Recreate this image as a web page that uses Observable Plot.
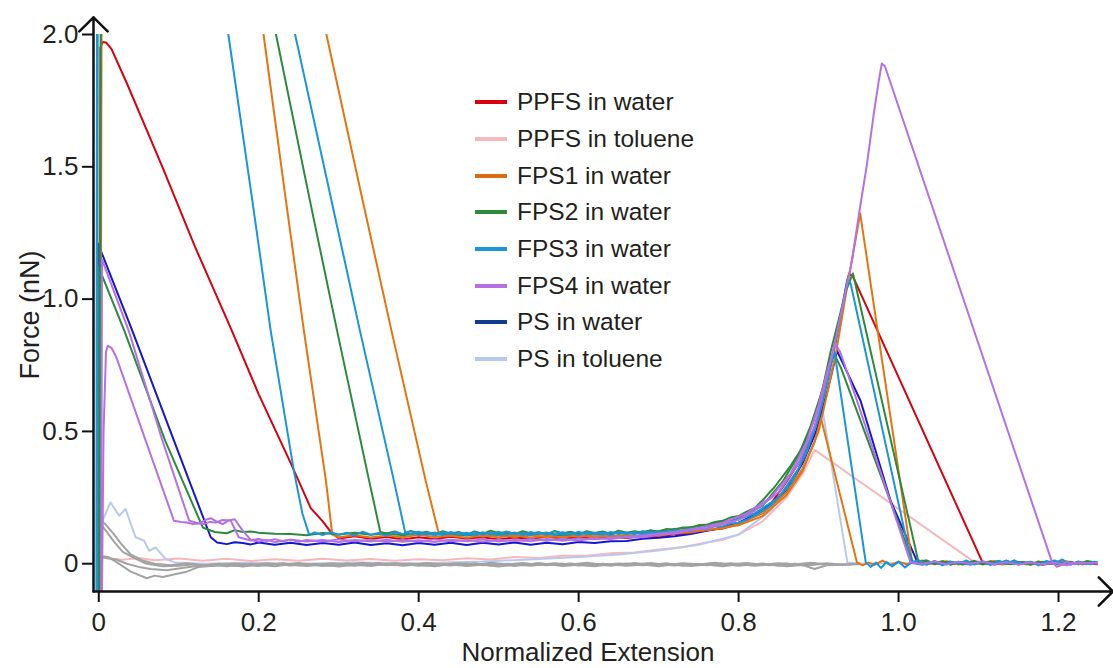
<!DOCTYPE html>
<html>
<head>
<meta charset="utf-8">
<script src="https://cdn.jsdelivr.net/npm/d3@7"></script>
<script src="https://cdn.jsdelivr.net/npm/@observablehq/plot@0.6"></script>
<style>
  body { margin: 0; background: #fff; font-family: "Liberation Sans", Arial, sans-serif; }
  #wrap { position: relative; width: 1113px; height: 668px; }
  #legend { position: absolute; left: 475px; top: 84px; }
  .item { display: flex; align-items: center; height: 36.7px; font-size: 24.5px; color: #231f20; white-space: nowrap; }
  .sw { width: 32px; height: 4px; margin-right: 10px; }
</style>
</head>
<body>
<div id="wrap"><div id="legend"></div></div>
<script>
// ---------- labels ----------
const xLabel = "Normalized Extension";
const yLabel = "Force (nN)";
const xTicks = [0, 0.2, 0.4, 0.6, 0.8, 1.0, 1.2];
const xTickLabels = ["0", "0.2", "0.4", "0.6", "0.8", "1.0", "1.2"];
const yTicks = [0, 0.5, 1.0, 1.5, 2.0];
const yTickLabels = ["0", "0.5", "1.0", "1.5", "2.0"];
const xDomain = [-0.0066, 1.25];
const yDomain = [-0.105, 2.0];
const xArrowEnd = 1.268;
const yArrowEnd = 2.065;

// ---------- series ----------
const seriesNames = ["PPFS in water", "PPFS in toluene", "FPS1 in water", "FPS2 in water",
                     "FPS3 in water", "FPS4 in water", "PS in water", "PS in toluene"];
const lineColors   = ["#d8000e", "#f7b8bb", "#e4740f", "#2d8a3c", "#1a95da", "#b471e2", "#1616cc", "#b9c9ee"];
const legendColors = ["#d8000e", "#f7b8bb", "#dc6c10", "#2e8a3a", "#1a95da", "#b471e2", "#0f3c8c", "#b9c9ee"];
const greyColor = "#a3a3a3";

// ---------- curves: [extension, force] ----------
const ppfsWater = [[0.001,-0.10],[0.002,1.95],[0.005,1.972],[0.009,1.97],[0.016,1.945],[0.0355,1.813],[0.08,1.496],[0.12,1.2],[0.165,0.89],[0.2,0.64],[0.24,0.38],[0.265,0.21],[0.28,0.16],[0.29,0.12],[0.3,0.095],[0.32,0.104],[0.34,0.094],[0.36,0.101],[0.38,0.092],[0.4,0.1],[0.42,0.093],[0.44,0.102],[0.46,0.095],[0.48,0.1],[0.5,0.092],[0.52,0.099],[0.54,0.094],[0.56,0.102],[0.58,0.095],[0.6,0.1],[0.62,0.094],[0.64,0.102],[0.66,0.097],[0.68,0.104],[0.7,0.102],[0.72,0.112],[0.74,0.114],[0.76,0.126],[0.78,0.133],[0.8,0.15],[0.82,0.18],[0.84,0.225],[0.86,0.31],[0.875,0.38],[0.89,0.47],[0.9,0.56],[0.91,0.68],[0.92,0.82],[0.928,0.94],[0.934,1.04],[0.938,1.096],[0.943,1.085],[1.105,0.005],[1.12,-0.003],[1.135,0.006],[1.15,-0.002],[1.165,0.005],[1.18,-0.004],[1.195,0.004],[1.21,-0.003],[1.225,0.003],[1.25,-0.002]];

const ppfsToluene = [[0.0,0.03],[0.01,0.02],[0.03,0.015],[0.05,0.022],[0.07,0.013],[0.1,0.02],[0.13,0.011],[0.16,0.019],[0.19,0.01],[0.22,0.017],[0.25,0.011],[0.28,0.019],[0.31,0.012],[0.34,0.018],[0.37,0.011],[0.4,0.017],[0.43,0.013],[0.46,0.021],[0.49,0.016],[0.52,0.025],[0.55,0.022],[0.58,0.03],[0.61,0.03],[0.64,0.04],[0.67,0.042],[0.7,0.054],[0.73,0.062],[0.76,0.08],[0.78,0.09],[0.8,0.11],[0.83,0.16],[0.86,0.25],[0.88,0.34],[0.895,0.43],[1.093,0.01],[1.12,0.004],[1.16,0.006],[1.2,0.002],[1.25,0.004]];

const fps1WaterA = [[0.002,-0.1],[0.003,2.6],[0.197,2.2],[0.206,2.0],[0.234,1.372],[0.2565,0.88],[0.284,0.314],[0.292,0.11],[0.3,0.1],[0.32,0.108],[0.34,0.099],[0.36,0.107],[0.38,0.1],[0.4,0.109],[0.42,0.101],[0.44,0.106],[0.46,0.098],[0.48,0.107],[0.5,0.1],[0.52,0.108],[0.54,0.099],[0.56,0.106],[0.58,0.1],[0.6,0.108],[0.62,0.101],[0.64,0.107],[0.66,0.1],[0.68,0.109],[0.7,0.106],[0.72,0.116],[0.74,0.118],[0.76,0.128],[0.78,0.134],[0.8,0.15],[0.83,0.19],[0.86,0.27],[0.88,0.36],[0.895,0.46],[0.903,0.55],[0.948,0.005],[0.955,-0.006],[0.962,0.004],[0.97,-0.004],[0.98,0.012],[0.99,-0.005],[1.0,0.008],[1.01,-0.002],[1.025,0.01],[1.04,0.0],[1.055,0.009],[1.07,-0.002],[1.085,0.008],[1.1,0.0],[1.115,0.009],[1.13,-0.002],[1.145,0.007],[1.16,-0.003],[1.175,0.006],[1.19,0.0],[1.205,0.008],[1.22,-0.002],[1.235,0.006],[1.25,0.002]];

const fps1WaterB = [[0.002,-0.1],[0.004,2.8],[0.270,2.2],[0.2846,2.0],[0.33,1.372],[0.366,0.88],[0.4087,0.314],[0.425,0.115],[0.44,0.105],[0.46,0.112],[0.48,0.103],[0.5,0.11],[0.52,0.101],[0.54,0.109],[0.56,0.1],[0.58,0.108],[0.6,0.102],[0.62,0.11],[0.64,0.103],[0.66,0.108],[0.68,0.104],[0.7,0.113],[0.72,0.114],[0.74,0.122],[0.76,0.126],[0.78,0.136],[0.8,0.145],[0.83,0.18],[0.86,0.26],[0.88,0.35],[0.9,0.5],[0.912,0.66],[0.922,0.8],[0.932,0.98],[0.94,1.12],[0.946,1.22],[0.952,1.324],[1.017,0.005],[1.03,0.012],[1.045,0.0],[1.06,0.009],[1.075,-0.003],[1.09,0.008],[1.105,0.0],[1.12,0.01],[1.135,-0.002],[1.15,0.007],[1.165,-0.003],[1.18,0.006],[1.195,0.0],[1.21,0.009],[1.225,-0.002],[1.24,0.006],[1.25,0.0]];

const fps2WaterA = [[0.001,-0.1],[0.003,2.9],[0.208,2.2],[0.2216,2.0],[0.264,1.372],[0.298,0.88],[0.338,0.314],[0.352,0.12],[0.36,0.114],[0.37,0.122],[0.38,0.112],[0.39,0.124],[0.4,0.115],[0.41,0.121],[0.42,0.111],[0.43,0.123],[0.44,0.114],[0.45,0.12],[0.46,0.11],[0.47,0.122],[0.48,0.113],[0.49,0.125],[0.5,0.115],[0.51,0.121],[0.52,0.112],[0.53,0.123],[0.54,0.114],[0.55,0.119],[0.56,0.111],[0.57,0.124],[0.58,0.115],[0.59,0.121],[0.6,0.112],[0.61,0.123],[0.62,0.116],[0.63,0.122],[0.64,0.113],[0.65,0.125],[0.66,0.117],[0.67,0.123],[0.68,0.116],[0.69,0.127],[0.7,0.121],[0.71,0.131],[0.72,0.127],[0.73,0.137],[0.74,0.136],[0.75,0.146],[0.76,0.147],[0.77,0.158],[0.78,0.162],[0.79,0.175],[0.8,0.18],[0.81,0.197],[0.82,0.21],[0.83,0.24],[0.845,0.29],[0.865,0.37],[0.88,0.44],[0.893,0.53],[0.905,0.66],[0.915,0.8],[0.925,0.92],[0.934,1.03],[0.943,1.097],[1.025,0.005],[1.035,0.013],[1.045,-0.002],[1.055,0.01],[1.065,-0.004],[1.075,0.008],[1.085,0.0],[1.095,0.011],[1.105,-0.003],[1.115,0.009],[1.125,0.0],[1.135,0.012],[1.145,-0.002],[1.155,0.007],[1.165,-0.004],[1.175,0.009],[1.185,0.0],[1.195,0.011],[1.205,-0.003],[1.215,0.008],[1.225,-0.002],[1.235,0.01],[1.25,0.003]];

const fps2WaterB = [[0.0,-0.1],[0.0,1.12],[0.032,0.88],[0.083,0.465],[0.13,0.137],[0.145,0.12],[0.16,0.115],[0.17,0.127],[0.18,0.12],[0.19,0.122],[0.2,0.117],[0.22,0.113],[0.24,0.112],[0.26,0.108],[0.28,0.116],[0.3,0.11],[0.32,0.117],[0.34,0.109],[0.36,0.115],[0.38,0.108],[0.4,0.116],[0.42,0.109],[0.44,0.114],[0.46,0.107],[0.48,0.116],[0.5,0.109],[0.52,0.117],[0.54,0.11],[0.56,0.115],[0.58,0.108],[0.6,0.116],[0.62,0.111],[0.64,0.117],[0.66,0.114],[0.68,0.122],[0.7,0.124],[0.72,0.131],[0.74,0.138],[0.76,0.146],[0.78,0.158],[0.8,0.17],[0.83,0.22],[0.855,0.31],[0.875,0.41],[0.89,0.52],[0.903,0.64],[0.914,0.76],[0.92,0.79],[0.928,0.74],[1.018,0.005],[1.035,0.009],[1.05,0.0],[1.065,0.008],[1.08,-0.003],[1.095,0.007],[1.11,0.0],[1.125,0.009],[1.14,-0.002],[1.155,0.006],[1.17,0.0],[1.185,0.008],[1.2,-0.003],[1.215,0.005],[1.23,-0.002],[1.25,0.003]];

const fps3WaterA = [[-0.003,-0.1],[-0.002,2.9],[0.152,2.2],[0.162,2.0],[0.192,1.372],[0.215,0.88],[0.244,0.35],[0.2546,0.19],[0.263,0.11],[0.27,0.118],[0.28,0.108],[0.29,0.12],[0.3,0.109],[0.31,0.117],[0.32,0.107],[0.33,0.121],[0.34,0.11],[0.35,0.116],[0.36,0.106],[0.37,0.119],[0.38,0.111],[0.39,0.122],[0.4,0.109],[0.41,0.117],[0.42,0.108],[0.43,0.12],[0.44,0.112],[0.45,0.118],[0.46,0.107],[0.47,0.12],[0.48,0.11],[0.49,0.117],[0.5,0.108],[0.51,0.121],[0.52,0.111],[0.53,0.116],[0.54,0.107],[0.55,0.119],[0.56,0.11],[0.57,0.122],[0.58,0.109],[0.59,0.116],[0.6,0.108],[0.61,0.12],[0.62,0.111],[0.63,0.118],[0.64,0.108],[0.65,0.12],[0.66,0.112],[0.67,0.119],[0.68,0.11],[0.69,0.121],[0.7,0.114],[0.71,0.123],[0.72,0.118],[0.73,0.127],[0.74,0.124],[0.75,0.134],[0.76,0.131],[0.77,0.142],[0.78,0.141],[0.79,0.152],[0.8,0.155],[0.81,0.166],[0.825,0.19],[0.84,0.22],[0.865,0.3],[0.885,0.42],[0.9,0.55],[0.912,0.7],[0.922,0.85],[0.93,0.98],[0.936,1.076],[0.94,1.06],[1.016,0.005],[1.025,0.014],[1.035,-0.004],[1.045,0.01],[1.055,-0.006],[1.065,0.008],[1.075,0.0],[1.085,0.012],[1.095,-0.003],[1.105,0.009],[1.115,-0.005],[1.125,0.011],[1.135,0.0],[1.145,0.013],[1.155,-0.002],[1.165,0.008],[1.175,-0.006],[1.185,0.01],[1.195,0.002],[1.205,0.016],[1.215,-0.004],[1.225,0.009],[1.235,-0.002],[1.245,0.008],[1.25,0.003]];

const fps3WaterB = [[-0.002,-0.1],[-0.001,2.95],[0.231,2.2],[0.2455,2.0],[0.291,1.372],[0.3266,0.88],[0.369,0.314],[0.383,0.12],[0.39,0.112],[0.4,0.121],[0.41,0.11],[0.42,0.118],[0.43,0.108],[0.44,0.12],[0.45,0.111],[0.46,0.117],[0.47,0.107],[0.48,0.119],[0.49,0.11],[0.5,0.121],[0.51,0.109],[0.52,0.117],[0.53,0.108],[0.54,0.12],[0.55,0.112],[0.56,0.118],[0.57,0.107],[0.58,0.119],[0.59,0.11],[0.6,0.121],[0.61,0.111],[0.62,0.117],[0.63,0.109],[0.64,0.12],[0.65,0.112],[0.66,0.118],[0.67,0.111],[0.68,0.122],[0.69,0.115],[0.7,0.121],[0.71,0.117],[0.72,0.127],[0.73,0.124],[0.74,0.132],[0.75,0.133],[0.76,0.141],[0.77,0.143],[0.78,0.153],[0.79,0.158],[0.8,0.168],[0.82,0.19],[0.85,0.25],[0.875,0.36],[0.893,0.49],[0.905,0.62],[0.914,0.74],[0.92,0.8],[0.959,0.005],[0.965,-0.012],[0.972,0.004],[0.978,-0.016],[0.985,0.006],[0.992,-0.01],[1.0,0.008],[1.008,-0.014],[1.016,0.004],[1.03,-0.004],[1.045,0.009],[1.06,-0.003],[1.075,0.007],[1.09,-0.004],[1.105,0.008],[1.12,0.0],[1.135,0.01],[1.15,-0.003],[1.165,0.006],[1.18,-0.002],[1.195,0.012],[1.21,-0.004],[1.225,0.007],[1.24,-0.002],[1.25,0.004]];

const fps4WaterA = [[0.003,-0.1],[0.004,1.15],[0.0375,0.88],[0.0796,0.465],[0.113,0.163],[0.122,0.155],[0.131,0.15],[0.139,0.158],[0.146,0.156],[0.155,0.165],[0.165,0.163],[0.175,0.1],[0.19,0.088],[0.2,0.094],[0.21,0.086],[0.22,0.093],[0.23,0.085],[0.24,0.091],[0.25,0.083],[0.26,0.09],[0.28,0.084],[0.3,0.092],[0.32,0.085],[0.34,0.091],[0.36,0.083],[0.38,0.09],[0.4,0.084],[0.42,0.092],[0.44,0.085],[0.46,0.09],[0.48,0.083],[0.5,0.091],[0.52,0.086],[0.54,0.093],[0.56,0.087],[0.58,0.094],[0.6,0.088],[0.62,0.096],[0.64,0.093],[0.66,0.101],[0.68,0.1],[0.7,0.109],[0.72,0.114],[0.74,0.126],[0.76,0.133],[0.78,0.149],[0.8,0.166],[0.82,0.2],[0.85,0.27],[0.875,0.38],[0.895,0.52],[0.91,0.7],[0.922,0.86],[0.932,1.0],[0.942,1.15],[0.952,1.35],[0.96,1.5],[0.969,1.7],[0.975,1.82],[0.979,1.89],[0.983,1.88],[1.192,0.005],[1.198,-0.012],[1.204,-0.004],[1.21,0.006],[1.225,0.0],[1.25,0.003]];

const fps4WaterB = [[0.004,-0.1],[0.006,0.5],[0.009,0.8],[0.0113,0.824],[0.016,0.815],[0.022,0.78],[0.094,0.162],[0.103,0.158],[0.11,0.156],[0.118,0.15],[0.125,0.152],[0.133,0.165],[0.14,0.172],[0.148,0.158],[0.155,0.15],[0.162,0.163],[0.17,0.168],[0.18,0.125],[0.19,0.09],[0.2,0.084],[0.21,0.09],[0.22,0.082],[0.24,0.091],[0.26,0.084],[0.28,0.09],[0.3,0.082],[0.32,0.09],[0.34,0.084],[0.36,0.091],[0.38,0.083],[0.4,0.089],[0.42,0.082],[0.44,0.091],[0.46,0.085],[0.48,0.092],[0.5,0.084],[0.52,0.09],[0.54,0.085],[0.56,0.093],[0.58,0.087],[0.6,0.095],[0.62,0.092],[0.64,0.098],[0.66,0.1],[0.69,0.11],[0.72,0.12],[0.75,0.135],[0.78,0.155],[0.81,0.19],[0.84,0.25],[0.865,0.34],[0.885,0.46],[0.9,0.6],[0.912,0.74],[0.921,0.83],[0.927,0.8],[0.948,0.616],[1.015,0.005],[1.03,0.0],[1.045,0.008],[1.06,-0.002],[1.075,0.007],[1.09,0.0],[1.105,0.008],[1.12,-0.002],[1.135,0.006],[1.15,-0.003],[1.165,0.005],[1.18,-0.002],[1.195,0.004],[1.21,-0.006],[1.225,0.004],[1.25,0.002]];

const psWater = [[0.0,-0.1],[-0.001,1.21],[0.001,1.195],[0.042,0.88],[0.094,0.465],[0.14,0.1],[0.148,0.08],[0.16,0.074],[0.17,0.081],[0.18,0.078],[0.19,0.073],[0.2,0.08],[0.22,0.072],[0.24,0.079],[0.26,0.071],[0.28,0.078],[0.3,0.072],[0.32,0.08],[0.34,0.071],[0.36,0.077],[0.38,0.07],[0.4,0.078],[0.42,0.072],[0.44,0.079],[0.46,0.071],[0.48,0.079],[0.5,0.073],[0.52,0.08],[0.54,0.072],[0.56,0.079],[0.58,0.074],[0.6,0.082],[0.62,0.078],[0.64,0.085],[0.66,0.086],[0.68,0.094],[0.7,0.098],[0.72,0.104],[0.74,0.112],[0.77,0.13],[0.8,0.155],[0.83,0.2],[0.86,0.28],[0.88,0.38],[0.897,0.5],[0.91,0.64],[0.918,0.74],[0.923,0.805],[0.93,0.76],[0.9525,0.616],[0.99,0.238],[1.023,0.01],[1.04,0.005],[1.07,0.0],[1.1,0.006],[1.13,-0.002],[1.16,0.004],[1.19,0.0],[1.25,0.003]];

const psToluene = [[0.0,0.05],[0.005,0.165],[0.0146,0.232],[0.0254,0.181],[0.0334,0.207],[0.046,0.1],[0.0566,0.087],[0.063,0.049],[0.071,0.062],[0.0834,0.018],[0.095,0.005],[0.13,0.0],[0.18,0.004],[0.25,0.0],[0.32,0.005],[0.4,0.002],[0.48,0.008],[0.55,0.018],[0.6,0.025],[0.65,0.035],[0.7,0.05],[0.75,0.072],[0.8,0.11],[0.84,0.2],[0.87,0.32],[0.89,0.45],[0.905,0.58],[0.936,0.005],[0.96,0.0],[1.0,0.003],[1.05,0.0],[1.1,0.003],[1.25,0.0]];

const greyA = [[0.0,0.17],[0.008,0.15],[0.018,0.115],[0.028,0.075],[0.04,0.035],[0.055,0.012],[0.07,0.0],[0.09,-0.006],[0.11,0.002],[0.13,-0.007],[0.15,0.0],[0.17,-0.008],[0.19,-0.001],[0.21,-0.006],[0.23,0.002],[0.25,-0.007],[0.27,-0.001],[0.29,-0.008],[0.31,0.001],[0.33,-0.005],[0.35,0.003],[0.37,-0.006],[0.39,0.0],[0.41,-0.008],[0.43,-0.001],[0.45,-0.006],[0.47,0.002],[0.49,-0.007],[0.51,0.0],[0.53,-0.006],[0.55,0.003],[0.57,-0.005],[0.59,0.001],[0.61,-0.007],[0.63,0.0],[0.65,-0.006],[0.67,0.003],[0.69,-0.005],[0.71,0.002],[0.73,-0.008],[0.75,-0.001],[0.77,-0.006],[0.79,0.002],[0.81,-0.005],[0.83,0.001],[0.85,-0.008],[0.87,0.0],[0.89,-0.005],[0.91,0.002],[0.93,-0.004],[0.95,-0.002]];
const greyB = [[0.0,0.16],[0.01,0.12],[0.02,0.08],[0.03,0.045],[0.045,0.02],[0.06,0.0],[0.08,-0.01],[0.1,-0.008],[0.12,-0.002],[0.14,-0.009],[0.16,-0.003],[0.18,-0.011],[0.2,-0.004],[0.22,-0.01],[0.24,-0.002],[0.26,-0.009],[0.28,-0.003],[0.3,-0.011],[0.32,-0.004],[0.34,-0.009],[0.36,0.0],[0.38,-0.008],[0.4,-0.003],[0.42,-0.01],[0.44,-0.002],[0.46,-0.009],[0.48,-0.004],[0.5,-0.011],[0.52,-0.003],[0.54,-0.008],[0.56,-0.001],[0.58,-0.009],[0.6,-0.004],[0.62,-0.01],[0.64,-0.002],[0.66,-0.008],[0.68,-0.003],[0.7,-0.01],[0.72,-0.002],[0.74,-0.009],[0.76,-0.003],[0.78,-0.01],[0.8,-0.002],[0.82,-0.008],[0.84,-0.003],[0.86,-0.01],[0.88,-0.005],[0.895,-0.02],[0.91,-0.006],[0.93,-0.004]];
const greyC = [[0.0,0.03],[0.012,0.025],[0.025,0.0],[0.04,-0.03],[0.06,-0.055],[0.07,-0.045],[0.08,-0.05],[0.095,-0.04],[0.11,-0.03],[0.125,-0.012],[0.15,-0.006],[0.17,0.001],[0.19,-0.005],[0.21,0.002],[0.23,-0.004],[0.25,0.003],[0.27,-0.005],[0.29,0.001],[0.31,-0.003],[0.33,0.004],[0.35,-0.004],[0.37,0.002],[0.39,-0.005],[0.41,0.003],[0.43,-0.003],[0.45,0.002],[0.47,-0.005],[0.49,0.004],[0.51,-0.002],[0.53,0.003],[0.55,-0.004],[0.57,0.002],[0.59,-0.003],[0.61,0.004],[0.63,-0.004],[0.65,0.001],[0.67,-0.003],[0.69,0.003],[0.71,-0.005],[0.73,0.002],[0.75,-0.003],[0.77,0.004],[0.79,-0.002],[0.81,0.003],[0.83,-0.004],[0.85,0.002],[0.87,-0.003],[0.89,0.004],[0.91,-0.002],[0.94,-0.003]];
const greyD = [[0.0,0.025],[0.02,0.018],[0.035,0.0],[0.05,-0.012],[0.065,-0.02],[0.085,-0.025],[0.1,-0.018],[0.12,-0.01],[0.14,-0.004],[0.16,-0.01],[0.18,-0.003],[0.2,-0.009],[0.22,-0.001],[0.24,-0.007],[0.26,-0.002],[0.28,-0.009],[0.3,-0.003],[0.32,-0.008],[0.34,0.0],[0.36,-0.006],[0.38,-0.001],[0.4,-0.008],[0.42,-0.002],[0.44,-0.007],[0.46,0.001],[0.48,-0.006],[0.5,-0.002],[0.52,-0.009],[0.54,-0.001],[0.56,-0.006],[0.58,0.0],[0.6,-0.007],[0.62,-0.002],[0.64,-0.008],[0.66,0.001],[0.68,-0.006],[0.7,-0.002],[0.72,-0.007],[0.74,0.0],[0.76,-0.006],[0.78,-0.001],[0.8,-0.008],[0.82,-0.002],[0.84,-0.006],[0.86,0.001],[0.88,-0.006],[0.9,-0.001],[0.92,-0.005],[0.95,0.0]];

// drawing order (series index, points); -1 = unlabeled grey traces
const curves = [
  [1, ppfsToluene], [7, psToluene],
  [-1, greyA], [-1, greyB], [-1, greyC], [-1, greyD],
  [0, ppfsWater], [6, psWater],
  [2, fps1WaterA], [2, fps1WaterB],
  [3, fps2WaterA], [3, fps2WaterB],
  [4, fps3WaterA], [4, fps3WaterB],
  [5, fps4WaterA], [5, fps4WaterB]
];

const axisColor = "#111";
const textColor = "#231f20";
const chart = Plot.plot({
  width: 1113, height: 668,
  marginLeft: 93, marginRight: 15, marginTop: 34, marginBottom: 77,
  x: {domain: xDomain},
  y: {domain: yDomain},
  style: {fontFamily: "'Liberation Sans', Arial, sans-serif", fontSize: "26px", color: textColor, background: "white", overflow: "visible"},
  marks: [
    ...curves.map(([s, pts]) => Plot.line(pts, {
      x: d => d[0], y: d => d[1],
      stroke: s < 0 ? greyColor : lineColors[s],
      strokeWidth: 2, strokeLinejoin: "round", clip: true
    })),
    Plot.axisX({ticks: xTicks, tickFormat: d => xTickLabels[xTicks.indexOf(d)], tickSize: 11, tickPadding: 10, strokeWidth: 2, stroke: axisColor, fill: textColor, label: null}),
    Plot.axisY({ticks: yTicks, tickFormat: d => yTickLabels[yTicks.indexOf(d)], tickSize: 11, tickPadding: 4, strokeWidth: 2, stroke: axisColor, fill: textColor, label: null}),
    Plot.arrow([0], {x1: xDomain[0], x2: xDomain[0], y1: yDomain[0], y2: yArrowEnd, stroke: axisColor, strokeWidth: 2.5, headLength: 12, headAngle: 90}),
    Plot.arrow([0], {x1: xDomain[0], x2: xArrowEnd, y1: yDomain[0], y2: yDomain[0], stroke: axisColor, strokeWidth: 2.5, headLength: 12, headAngle: 90}),
    Plot.text([xLabel], {frameAnchor: "bottom", textAnchor: "middle", dx: -8, dy: 61, lineAnchor: "middle", fontSize: 26, fill: textColor}),
    Plot.text([yLabel], {frameAnchor: "left", textAnchor: "middle", dx: -63, dy: 2, rotate: -90, lineAnchor: "middle", fontSize: 27, fill: textColor})
  ]
});
document.getElementById("wrap").prepend(chart);

// legend
const legend = document.getElementById("legend");
seriesNames.forEach((name, i) => {
  const item = document.createElement("div");
  item.className = "item";
  const sw = document.createElement("span");
  sw.className = "sw";
  sw.style.background = legendColors[i];
  const label = document.createElement("span");
  label.textContent = name;
  item.append(sw, label);
  legend.append(item);
});
</script>
</body>
</html>
